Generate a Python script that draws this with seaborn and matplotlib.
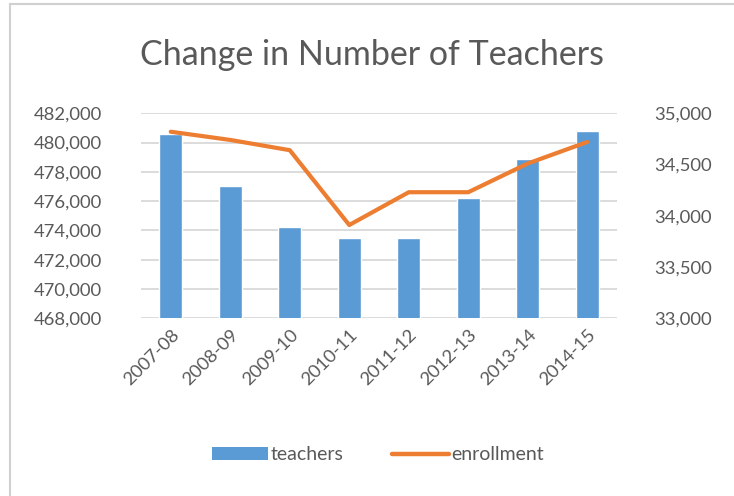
import matplotlib
matplotlib.use("Agg")
import matplotlib.pyplot as plt
import seaborn as sns
import pandas as pd
from matplotlib.lines import Line2D
from matplotlib.patches import Patch

# --- data ---
years = ["2007-08", "2008-09", "2009-10", "2010-11", "2011-12", "2012-13", "2013-14", "2014-15"]
teachers = [480600, 477000, 474200, 473500, 473500, 476200, 478900, 480800]
enrollment = [34820, 34740, 34640, 33910, 34230, 34230, 34510, 34720]

df = pd.DataFrame({"year": years, "teachers": teachers, "enrollment": enrollment})

sns.set_style("white")
plt.rcParams["font.family"] = ["Lato", "DejaVu Sans"]

blue = "#5b9bd5"
orange = "#ed7d31"
grey_txt = "#595959"
grid_c = "#d9d9d9"

fig = plt.figure(figsize=(7.34, 4.96), dpi=100)
ax = fig.add_axes([0.1921, 0.3583, 0.6485, 0.4133])

sns.barplot(data=df, x="year", y="teachers", color=blue, width=0.39,
            saturation=1, ax=ax, zorder=2)
ax.set_ylim(468000, 482000)
ax.set_yticks(range(468000, 482001, 2000))
ax.set_yticklabels([f"{v:,}" for v in range(468000, 482001, 2000)])
ax.yaxis.grid(True, color=grid_c, lw=1.3, zorder=0)
ax.set_axisbelow(True)
ax.set_xlim(-0.5, len(years) - 0.5)

ax2 = ax.twinx()
sns.lineplot(data=df, x="year", y="enrollment", color=orange, lw=3,
             sort=False, ax=ax2)
ax2.set_ylim(33000, 35000)
ax2.set_yticks(range(33000, 35001, 500))
ax2.set_yticklabels([f"{v:,}" for v in range(33000, 35001, 500)])

for a in (ax, ax2):
    for s in a.spines.values():
        s.set_visible(False)
    a.set_xlabel("")
    a.set_ylabel("")
    a.tick_params(length=0, labelsize=13.3, colors=grey_txt)
ax.tick_params(axis="y", pad=28)
ax2.tick_params(axis="y", pad=27)

plt.setp(ax.get_xticklabels(), rotation=45, ha="right", rotation_mode="anchor")
ax.tick_params(axis="x", pad=6)

fig.text(0.507, 0.889, "Change in Number of Teachers", ha="center", va="center",
         fontsize=24.5, color=grey_txt)

handles = [Patch(facecolor=blue, edgecolor="none"),
           Line2D([0], [0], color=orange, lw=3.2, solid_capstyle="round")]
fig.legend(handles, ["teachers", "enrollment"], loc="center",
           bbox_to_anchor=(0.515, 0.083), ncol=2, frameon=False,
           fontsize=14, labelcolor=grey_txt, handlelength=2.9,
           handletextpad=0.15, columnspacing=2.5)

# page frame lines
fig.add_artist(Line2D([0.013, 0.013], [0, 0.992], color="#d0d0d0", lw=1.5))
fig.add_artist(Line2D([0.013, 1.0], [0.992, 0.992], color="#d0d0d0", lw=1.5))

fig.savefig("out.png", dpi=100)
